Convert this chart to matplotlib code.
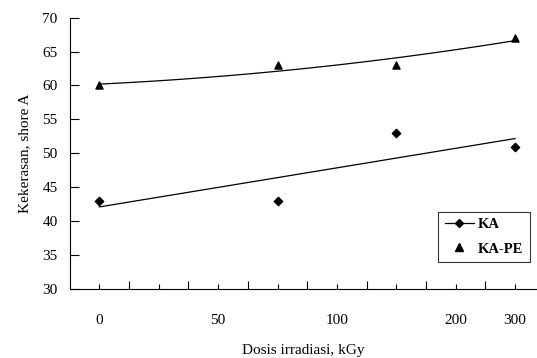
import numpy as np
import matplotlib
matplotlib.use("Agg")
import matplotlib.pyplot as plt

# ---------------- data ----------------
# x positions (equal-step axis positions)
x_pos = [0, 6, 10, 14]
ka = [43, 43, 53, 51]
ka_pe = [60, 63, 63, 67]

# tick labels placed as in the original
label_pos = [0, 4, 8, 12, 14]
label_txt = ["0", "50", "100", "200", "300"]

plt.rcParams['font.family'] = ['Liberation Serif', 'DejaVu Serif']

fig = plt.figure(figsize=(5.37, 3.58), dpi=100)
ax = fig.add_axes([0.1304, 0.1927, 0.8696, 0.758])

# points
ax.scatter(x_pos, ka, marker='D', s=18, color='black', zorder=3)
ax.scatter(x_pos, ka_pe, marker='^', s=26, color='black', zorder=3)

# trend lines
xx = np.linspace(min(x_pos), max(x_pos), 100)
fit_ka = np.poly1d(np.polyfit(x_pos, ka, 1))
fit_pe = np.poly1d(np.polyfit(x_pos, ka_pe, 2))
ax.plot(xx, fit_ka(xx), color='black', linewidth=0.9)
ax.plot(xx, fit_pe(xx), color='black', linewidth=0.9)

# legend handles
h1, = ax.plot([], [], color='black', linewidth=0.9, marker='D', markersize=4.5)
h2, = ax.plot([], [], color='black', linestyle='none', marker='^', markersize=5.5)
leg = ax.legend([h1, h2], ['KA', 'KA-PE'], loc='upper left',
                bbox_to_anchor=(0.788, 0.285), prop={'weight': 'bold', 'size': 10.5},
                frameon=True, fancybox=False, edgecolor='black',
                handlelength=2.0, handletextpad=0.3, borderpad=0.45,
                labelspacing=0.75, borderaxespad=0)
leg.get_frame().set_linewidth(0.8)

# axes
ax.set_xlim(-0.99, 14.74)
ax.set_ylim(30, 70)
ax.set_yticks(range(30, 71, 5))
ax.set_xticks(range(1, 15, 2))
ax.set_xticks(range(0, 15, 2), minor=True)
ax.tick_params(axis='x', which='major', direction='in', length=6, width=0.8, labelbottom=False)
ax.tick_params(axis='x', which='minor', direction='in', length=3.5, width=0.8)
ax.tick_params(axis='y', direction='in', length=6.5, width=0.8, labelsize=11, pad=9)

for p, t in zip(label_pos, label_txt):
    ax.text(p, -0.115, t, transform=ax.get_xaxis_transform(), ha='center', va='center', fontsize=11)

for s in ['top', 'right']:
    ax.spines[s].set_visible(False)
for s in ['left', 'bottom']:
    ax.spines[s].set_linewidth(0.8)

ax.set_ylabel('Kekerasan, shore A', fontsize=11, labelpad=8)
ax.text(0.5, -0.225, 'Dosis irradiasi, kGy', transform=ax.transAxes,
        ha='center', va='center', fontsize=11)

fig.savefig('out.png', dpi=100)
